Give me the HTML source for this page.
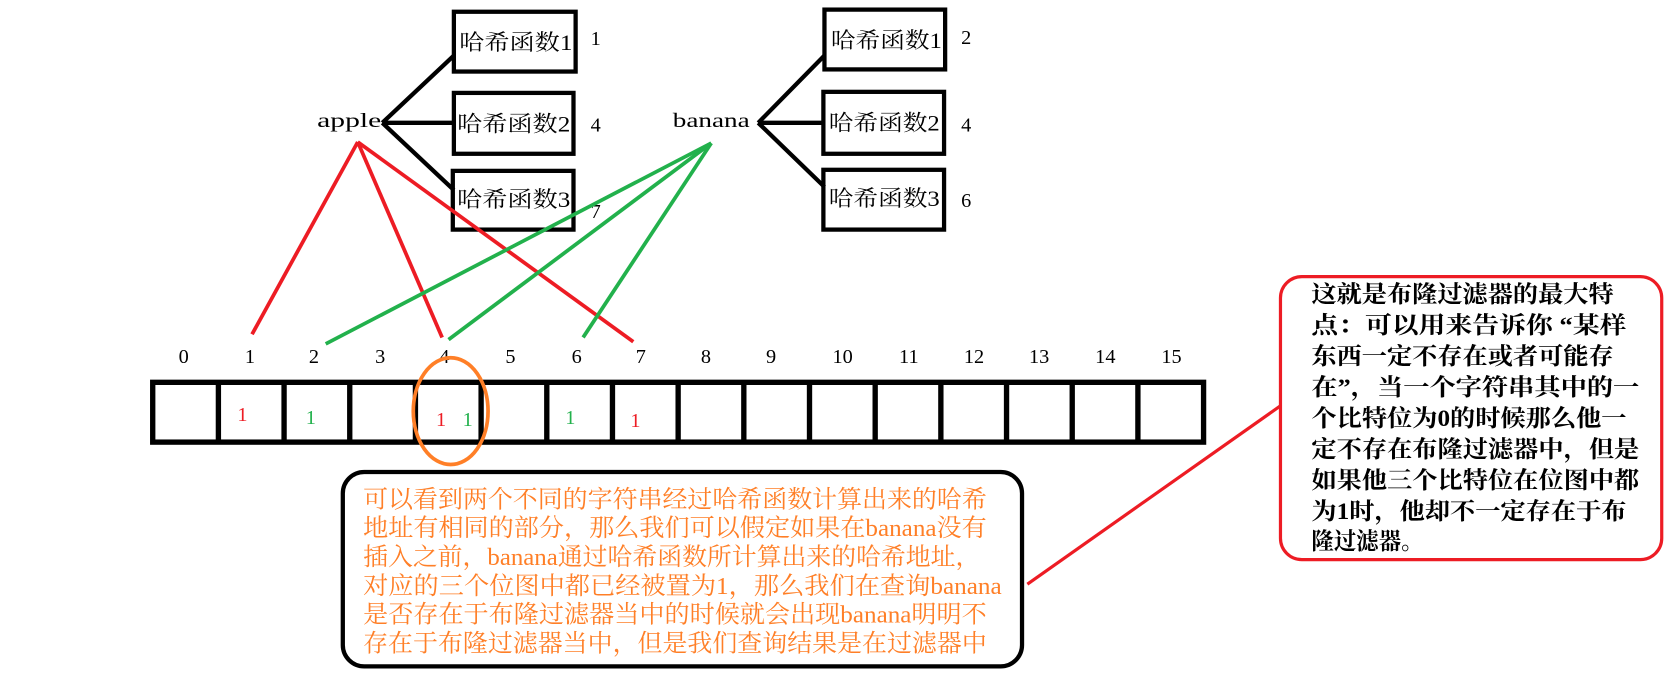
<!DOCTYPE html>
<html><head><meta charset="utf-8"><style>
html,body{margin:0;padding:0;background:#fff;width:1666px;height:676px;overflow:hidden}
svg{display:block}
text{font-family:"Liberation Serif","Noto Serif CJK SC",serif}
</style></head><body>
<svg width="1666" height="676" viewBox="0 0 1560 633" preserveAspectRatio="none" xmlns="http://www.w3.org/2000/svg">
<rect width="1560" height="633" fill="#fff"/>
<g stroke="#000" stroke-width="4" fill="none">
<line x1="358" y1="115" x2="425" y2="52"/><line x1="358" y1="115" x2="425" y2="115"/><line x1="358" y1="115" x2="425" y2="178"/>
<line x1="710" y1="115" x2="772" y2="52"/><line x1="710" y1="115" x2="772" y2="115"/><line x1="710" y1="115" x2="772" y2="175"/>
<rect x="425" y="11" width="114" height="56"/><rect x="425" y="87" width="112" height="57"/><rect x="424" y="160" width="113" height="55"/>
<rect x="772" y="9" width="113" height="56"/><rect x="771" y="86" width="113" height="58"/><rect x="771" y="159" width="113" height="56"/>
</g>
<g font-size="21" fill="#000">
<text x="430" y="47" textLength="106" lengthAdjust="spacingAndGlyphs">哈希函数1</text>
<text x="428" y="123" textLength="106" lengthAdjust="spacingAndGlyphs">哈希函数2</text>
<text x="428" y="194" textLength="106" lengthAdjust="spacingAndGlyphs">哈希函数3</text>
<text x="778" y="45" textLength="104" lengthAdjust="spacingAndGlyphs">哈希函数1</text>
<text x="776" y="122" textLength="104" lengthAdjust="spacingAndGlyphs">哈希函数2</text>
<text x="776" y="193" textLength="104" lengthAdjust="spacingAndGlyphs">哈希函数3</text>
<text x="553" y="42" font-size="19">1</text><text x="553" y="123" font-size="19">4</text><text x="553" y="204" font-size="19">7</text>
<text x="900" y="41" font-size="19">2</text><text x="900" y="123" font-size="19">4</text><text x="900" y="194" font-size="19">6</text>
<text x="297" y="119" font-size="19" textLength="60" lengthAdjust="spacingAndGlyphs">apple</text>
<text x="630" y="119" font-size="19" textLength="72" lengthAdjust="spacingAndGlyphs">banana</text>
</g>
<g stroke="#ed1c24" stroke-width="3.5">
<line x1="335" y1="133" x2="236" y2="313"/><line x1="335" y1="133" x2="414" y2="316"/><line x1="335" y1="133" x2="593" y2="320"/>
</g>
<g stroke="#22b14c" stroke-width="3.5">
<line x1="666" y1="134" x2="305" y2="322"/><line x1="666" y1="134" x2="420" y2="318"/><line x1="666" y1="134" x2="546" y2="316"/>
</g>
<g font-size="19" fill="#000" text-anchor="middle">
<text x="172" y="340">0</text><text x="234" y="340">1</text><text x="294" y="340">2</text><text x="356" y="340">3</text>
<text x="416" y="340">4</text><text x="478" y="340">5</text><text x="540" y="340">6</text><text x="600" y="340">7</text>
<text x="661" y="340">8</text><text x="722" y="340">9</text><text x="789" y="340">10</text><text x="851" y="340">11</text>
<text x="912" y="340">12</text><text x="973" y="340">13</text><text x="1035" y="340">14</text><text x="1097" y="340">15</text>
</g>
<g stroke="#000" stroke-width="5" fill="none">
<rect x="143" y="358" width="984" height="56"/>
<line x1="204.5" y1="358" x2="204.5" y2="414"/><line x1="266" y1="358" x2="266" y2="414"/><line x1="327.5" y1="358" x2="327.5" y2="414"/>
<line x1="389" y1="358" x2="389" y2="414"/><line x1="450.5" y1="358" x2="450.5" y2="414"/><line x1="512" y1="358" x2="512" y2="414"/>
<line x1="573.5" y1="358" x2="573.5" y2="414"/><line x1="635" y1="358" x2="635" y2="414"/><line x1="696.5" y1="358" x2="696.5" y2="414"/>
<line x1="758" y1="358" x2="758" y2="414"/><line x1="819.5" y1="358" x2="819.5" y2="414"/><line x1="881" y1="358" x2="881" y2="414"/>
<line x1="942.5" y1="358" x2="942.5" y2="414"/><line x1="1004" y1="358" x2="1004" y2="414"/><line x1="1065.5" y1="358" x2="1065.5" y2="414"/>
</g>
<g font-size="19" text-anchor="middle">
<text x="227" y="394" fill="#ed1c24">1</text><text x="291" y="397" fill="#22b14c">1</text>
<text x="413" y="399" fill="#ed1c24">1</text><text x="438" y="399" fill="#22b14c">1</text>
<text x="534" y="397" fill="#22b14c">1</text><text x="595" y="400" fill="#ed1c24">1</text>
</g>
<ellipse cx="422" cy="385" rx="35" ry="50" fill="none" stroke="#ff7f27" stroke-width="3.5"/>
<rect x="321" y="442" width="636" height="182" rx="20" fill="none" stroke="#000" stroke-width="4"/>
<g font-size="23" fill="#ff7f27">
<text x="340" y="475" textLength="584" lengthAdjust="spacingAndGlyphs">可以看到两个不同的字符串经过哈希函数计算出来的哈希</text>
<text x="340" y="502" textLength="584" lengthAdjust="spacingAndGlyphs">地址有相同的部分，那么我们可以假定如果在banana没有</text>
<text x="340" y="529" textLength="578" lengthAdjust="spacingAndGlyphs">插入之前，banana通过哈希函数所计算出来的哈希地址，</text>
<text x="340" y="556" textLength="598" lengthAdjust="spacingAndGlyphs">对应的三个位图中都已经被置为1，那么我们在查询banana</text>
<text x="340" y="583" textLength="584" lengthAdjust="spacingAndGlyphs">是否存在于布隆过滤器当中的时候就会出现banana明明不</text>
<text x="340" y="610" textLength="584" lengthAdjust="spacingAndGlyphs">存在于布隆过滤器当中，但是我们查询结果是在过滤器中</text>
</g>
<line x1="962" y1="547" x2="1199" y2="380" stroke="#ed1c24" stroke-width="3"/>
<rect x="1199" y="259" width="357" height="265" rx="20" fill="none" stroke="#ed1c24" stroke-width="3"/>
<g font-size="22" font-weight="bold" fill="#000">
<text x="1228" y="283" textLength="283" lengthAdjust="spacingAndGlyphs">这就是布隆过滤器的最大特</text>
<text x="1228" y="312" textLength="295" lengthAdjust="spacingAndGlyphs">点：可以用来告诉你 “某样</text>
<text x="1228" y="341" textLength="283" lengthAdjust="spacingAndGlyphs">东西一定不存在或者可能存</text>
<text x="1228" y="370" textLength="307" lengthAdjust="spacingAndGlyphs">在”，当一个字符串其中的一</text>
<text x="1228" y="399" textLength="295" lengthAdjust="spacingAndGlyphs">个比特位为0的时候那么他一</text>
<text x="1228" y="428" textLength="307" lengthAdjust="spacingAndGlyphs">定不存在布隆过滤器中，但是</text>
<text x="1228" y="457" textLength="307" lengthAdjust="spacingAndGlyphs">如果他三个比特位在位图中都</text>
<text x="1228" y="486" textLength="295" lengthAdjust="spacingAndGlyphs">为1时，他却不一定存在于布</text>
<text x="1228" y="514" textLength="105" lengthAdjust="spacingAndGlyphs">隆过滤器。</text>
</g>
</svg>
</body></html>
